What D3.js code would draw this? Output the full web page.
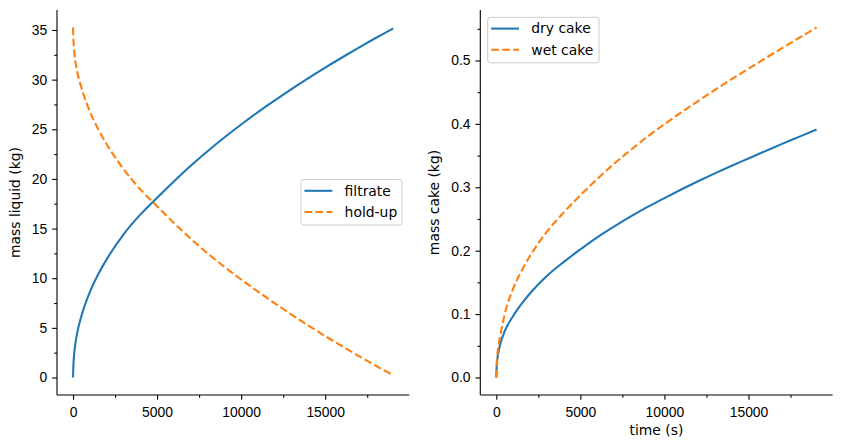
<!DOCTYPE html>
<html lang="en">
<head>
<meta charset="UTF-8">
<title>Filtration: liquid and cake mass</title>
<script src="https://d3js.org/d3.v7.min.js"></script>
<style>
  body { margin: 0; background: #fff; }
  svg { display: block; font-family: "DejaVu Sans", sans-serif; }
  .tick text { font-size: 13.9px; fill: #000; }
  .tick line, .domain { stroke: #000; stroke-width: 1.1; }
  .axis-label { font-size: 13.9px; fill: #000; }
  .legend text { font-size: 13.9px; fill: #000; }
</style>
</head>
<body>
<svg width="842" height="448"></svg>
<script>
// values (time in s)
const time     = [0, 25, 50, 100, 250, 500, 1000, 1500, 2000, 3000, 4000, 5000, 6000, 7000, 8000, 9000, 10000, 11000, 12000, 13000, 14000, 15000, 16000, 17000, 18000, 19050];
const filtrate = [0, 1.3, 2.0, 2.9, 4.5, 6.2, 8.6, 10.4, 11.9, 14.4, 16.4, 18.1, 19.74, 21.32, 22.79, 24.17, 25.48, 26.73, 27.91, 29.05, 30.15, 31.21, 32.23, 33.22, 34.19, 35.17];
const holdUp   = [35.25, 34.0, 33.3, 32.4, 30.8, 29.2, 26.8, 25.0, 23.5, 21.0, 18.95, 17.25, 15.56, 13.98, 12.51, 11.15, 9.87, 8.65, 7.47, 6.33, 5.23, 4.17, 3.15, 2.16, 1.19, 0.23];
const dryCake  = [0, 0.018, 0.026, 0.036, 0.054, 0.073, 0.097, 0.116, 0.1325, 0.160, 0.182, 0.202, 0.221, 0.238, 0.254, 0.269, 0.283, 0.2965, 0.3095, 0.322, 0.334, 0.3455, 0.357, 0.3685, 0.3795, 0.391];
const wetCake  = [0, 0.022, 0.032, 0.045, 0.068, 0.100, 0.140, 0.168, 0.1915, 0.2295, 0.260, 0.2875, 0.313, 0.337, 0.359, 0.380, 0.3995, 0.418, 0.436, 0.4535, 0.4705, 0.487, 0.5035, 0.5195, 0.5355, 0.552];

const xTicks      = [0, 5000, 10000, 15000];
const xMinor      = [2500, 7500, 12500, 17500];
const liquidTicks = [0, 5, 10, 15, 20, 25, 30, 35];
const liquidMinor = [2.5, 7.5, 12.5, 17.5, 22.5, 27.5, 32.5];
const cakeTicks   = [0, 0.1, 0.2, 0.3, 0.4, 0.5];
const cakeMinor   = [0.05, 0.15, 0.25, 0.35, 0.45, 0.55];

const blue = "#1f77b4", orange = "#ff7f0e";
const svg = d3.select("svg");
svg.append("rect").attr("width", 842).attr("height", 448).attr("fill", "#fff");

const axW = 352.3, axTop = 10, axBottom = 395;
const tickLen = 4.86, minorLen = 2.78, pad = 4.86;

// matplotlib style 5% margins
function padded(lo, hi) {
    const m = (hi - lo) * 0.05;
    return [lo - m, hi + m];
}

const panels = [
    {
        left: 57,
        series: [
            { name: "filtrate", values: filtrate, color: blue, dash: null },
            { name: "hold-up", values: holdUp, color: orange, dash: "7.7,3.3" }
        ],
        yTicks: liquidTicks, yMinor: liquidMinor, yFmt: d3.format("d"),
        ylabel: "mass liquid (kg)", ylabelX: 20, xlabel: null,
        legend: { x: 301, y: 179.5, w: 101, h: 45.5 }
    },
    {
        left: 480.3,
        series: [
            { name: "dry cake", values: dryCake, color: blue, dash: null },
            { name: "wet cake", values: wetCake, color: orange, dash: "7.7,3.3" }
        ],
        yTicks: cakeTicks, yMinor: cakeMinor, yFmt: d3.format(".1f"),
        ylabel: "mass cake (kg)", ylabelX: 439, xlabel: "time (s)",
        legend: { x: 487.7, y: 17.3, w: 111.3, h: 45.5 }
    }
];

panels.forEach(p => {
    const all = p.series.flatMap(s => s.values);
    const x = d3.scaleLinear().domain(padded(0, d3.max(time))).range([p.left, p.left + axW]);
    const y = d3.scaleLinear().domain(padded(d3.min(all), d3.max(all))).range([axBottom, axTop]);

    // minor ticks first, then major with spine
    svg.append("g")
        .attr("transform", `translate(0,${axBottom})`)
        .call(d3.axisBottom(x).tickValues(xMinor).tickSize(minorLen).tickFormat(""))
        .call(g => g.select(".domain").remove());
    svg.append("g")
        .attr("transform", `translate(${p.left},0)`)
        .call(d3.axisLeft(y).tickValues(p.yMinor).tickSize(minorLen).tickFormat(""))
        .call(g => g.select(".domain").remove());

    svg.append("g")
        .attr("transform", `translate(0,${axBottom})`)
        .call(d3.axisBottom(x).tickValues(xTicks).tickSize(tickLen).tickPadding(pad).tickSizeOuter(0).tickFormat(d3.format("d")))
        .call(g => g.select(".domain").attr("d", `M${p.left},0H${p.left + axW}`))
        .selectAll("text").attr("dy", "0.88em");

    svg.append("g")
        .attr("transform", `translate(${p.left},0)`)
        .call(d3.axisLeft(y).tickValues(p.yTicks).tickSize(tickLen).tickPadding(pad).tickSizeOuter(0).tickFormat(p.yFmt))
        .call(g => g.select(".domain").attr("d", `M0,${axTop}V${axBottom}`))
        .selectAll("text").attr("dy", "0.32em");

    const line = d3.line()
        .x((d, i) => x(time[i]))
        .y(d => y(d))
        .curve(d3.curveMonotoneX);

    p.series.forEach(s => {
        svg.append("path")
            .datum(s.values)
            .attr("d", line)
            .attr("fill", "none")
            .attr("stroke", s.color)
            .attr("stroke-width", 2.08)
            .attr("stroke-dasharray", s.dash);
    });

    svg.append("text")
        .attr("class", "axis-label")
        .attr("transform", `translate(${p.ylabelX},${(axTop + axBottom) / 2}) rotate(-90)`)
        .attr("text-anchor", "middle")
        .text(p.ylabel);

    if (p.xlabel) {
        svg.append("text")
            .attr("class", "axis-label")
            .attr("x", p.left + axW / 2)
            .attr("y", 435)
            .attr("text-anchor", "middle")
            .text(p.xlabel);
    }

    const lg = svg.append("g").attr("class", "legend")
        .attr("transform", `translate(${p.legend.x},${p.legend.y})`);
    lg.append("rect")
        .attr("width", p.legend.w).attr("height", p.legend.h)
        .attr("rx", 2.8)
        .attr("fill", "#fff").attr("fill-opacity", 0.8)
        .attr("stroke", "#cccccc").attr("stroke-width", 1);
    p.series.forEach((s, i) => {
        const ly = 11.3 + i * 21.2;
        lg.append("line")
            .attr("x1", 3.5).attr("x2", 31.3)
            .attr("y1", ly).attr("y2", ly)
            .attr("stroke", s.color).attr("stroke-width", 2.08)
            .attr("stroke-dasharray", s.dash);
        lg.append("text")
            .attr("x", 43.6).attr("y", ly + 4.8)
            .text(s.name);
    });
});
</script>
</body>
</html>
